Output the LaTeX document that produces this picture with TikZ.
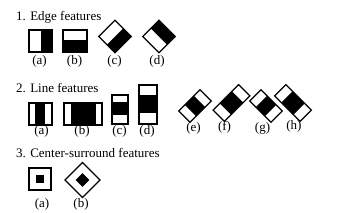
\documentclass[tikz,border=0pt]{standalone}
\usepackage{fontspec}
\setmainfont{Liberation Serif}
\usetikzlibrary{positioning}

\begin{document}
\begin{tikzpicture}[
  x=1bp,y=-1bp,
  every node/.style={font=\fontsize{13bp}{15bp}\selectfont,inner sep=0pt},
  frame/.style={draw=black,line width=1.3bp,fill=white},
  dark/.style={fill=black},
  title/.style={anchor=base west},
  tag/.style={anchor=base}
]
\useasboundingbox (0,0) rectangle (354,213);

% 1. Edge features
\node[title] (edge) at (16,20) {1. Edge features};

\fill[dark] (40.5,30) rectangle (52,52);
\draw[frame,fill=none] (29,30) rectangle (52,52);
\node[tag] (ea) at (39.5,64.5) {(a)};

\fill[dark] (63,40) rectangle (87,52);
\draw[frame,fill=none] (63,30) rectangle (87,52);
\node[tag] (eb) at (74.5,64.5) {(b)};

\begin{scope}[shift={(115,36.5)},rotate=45]
  \fill[dark] (-11.5,0) rectangle (11.5,11.5);
  \draw[frame,fill=none] (-11.5,-11.5) rectangle (11.5,11.5);
\end{scope}
\node[tag] (ec) at (114.5,64.5) {(c)};

\begin{scope}[shift={(159,36.5)},rotate=45]
  \fill[dark] (0,-11.5) rectangle (11.5,11.5);
  \draw[frame,fill=none] (-11.5,-11.5) rectangle (11.5,11.5);
\end{scope}
\node[tag] (ed) at (157,64.5) {(d)};

% 2. Line features
\node[title] (line) at (16,92) {2. Line features};

\fill[dark] (35,103) rectangle (44.5,125);
\draw[frame,fill=none] (29,103) rectangle (52,125);
\node[tag] (la) at (41.5,134) {(a)};

\fill[dark] (70.5,103) rectangle (96,125);
\draw[frame,fill=none] (64,103) rectangle (102,125);
\node[tag] (lb) at (82,134) {(b)};

\fill[dark] (112,102) rectangle (128,115);
\draw[frame,fill=none] (112,95) rectangle (128,124);
\node[tag] (lc) at (119.5,134) {(c)};

\fill[dark] (139,95) rectangle (157,113);
\draw[frame,fill=none] (139,85) rectangle (157,124);
\node[tag] (ld) at (147,134) {(d)};

% gedrehte Varianten
\begin{scope}[shift={(195,106)},rotate=45]
  \fill[dark] (-6.5,-8) rectangle (6.5,8);
  \draw[frame,fill=none] (-15,-8) rectangle (15,8);
\end{scope}
\node[tag] (le) at (193.5,131) {(e)};

\begin{scope}[shift={(231.5,103)},rotate=45]
  \fill[dark] (-8.5,-8) rectangle (8.5,8);
  \draw[frame,fill=none] (-18,-8) rectangle (18,8);
\end{scope}
\node[tag] (lf) at (224.5,130) {(f)};

\begin{scope}[shift={(266,106)},rotate=-45]
  \fill[dark] (-6.5,-8) rectangle (6.5,8);
  \draw[frame,fill=none] (-15,-8) rectangle (15,8);
\end{scope}
\node[tag] (lg) at (262.5,131) {(g)};

\begin{scope}[shift={(293,103)},rotate=-45]
  \fill[dark] (-8.5,-8) rectangle (8.5,8);
  \draw[frame,fill=none] (-18,-8) rectangle (18,8);
\end{scope}
\node[tag] (lh) at (294,129) {(h)};

% 3. Center-surround features
\node[title] (center) at (16,157) {3. Center-surround features};

\draw[frame] (29,168) rectangle (51,190);
\fill[dark] (36,175) rectangle (44,183);
\node[tag] (ca) at (42,207) {(a)};

\begin{scope}[shift={(82.5,180)},rotate=45]
  \draw[frame] (-12.4,-12.4) rectangle (12.4,12.4);
  \fill[dark] (-4.9,-4.9) rectangle (4.9,4.9);
\end{scope}
\node[tag] (cb) at (81,207) {(b)};

\end{tikzpicture}
\end{document}
